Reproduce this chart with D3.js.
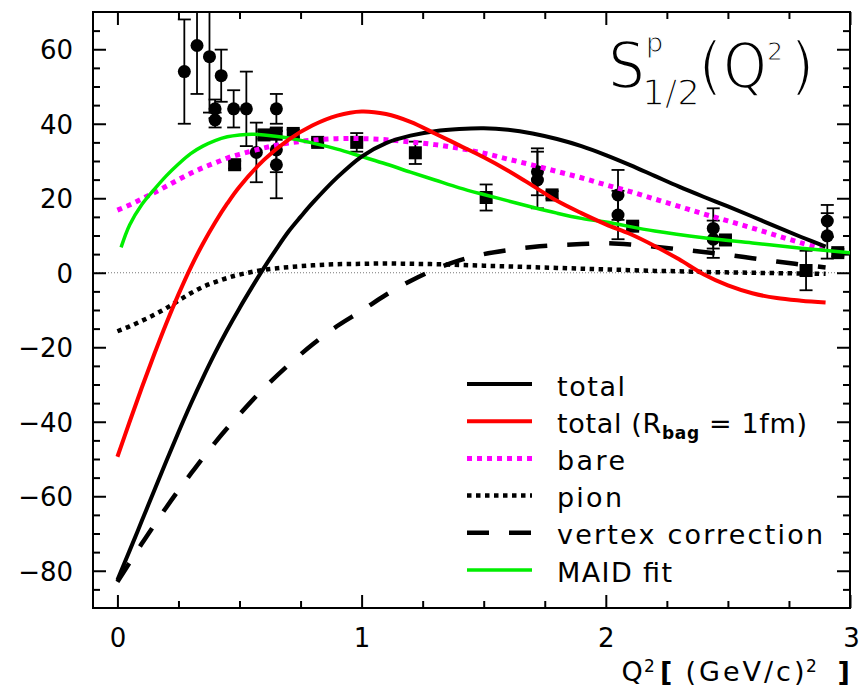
<!DOCTYPE html>
<html>
<head>
<meta charset="utf-8">
<script src="https://cdn.jsdelivr.net/npm/d3@7"></script>
<style>
  html, body { margin: 0; padding: 0; background: #fff; }
  svg { display: block; font-family: "DejaVu Sans", sans-serif; }
</style>
</head>
<body>
<script>
// ---- model curves: S_1/2 for the proton vs Q^2 ----
const qTotal = [0, 0.05, 0.1, 0.15, 0.2, 0.25, 0.3, 0.35, 0.4, 0.45, 0.5, 0.55, 0.6, 0.65, 0.7, 0.75, 0.8, 0.9,
  1.0, 1.1, 1.2, 1.3, 1.4, 1.5, 1.6, 1.7, 1.8, 1.9, 2.0, 2.1, 2.2, 2.3, 2.4, 2.5, 2.6, 2.7, 2.8, 2.9];
const sTotal = [-82.5, -74.6, -66.6, -58.6, -50.6, -42.8, -35.3, -28.2, -21.5, -15.3, -9.5, -4, 1.3, 6.3, 11, 15, 18.8, 25.6,
  31.2, 34.8, 36.8, 38, 38.6, 38.8, 38.4, 37.4, 35.9, 34, 31.6, 28.9, 26, 23.1, 20.4, 17.8, 15.1, 12.3, 9.6, 7];

const qModel = [0, 0.05, 0.1, 0.15, 0.2, 0.25, 0.3, 0.35, 0.4, 0.45, 0.5, 0.6, 0.7, 0.8, 0.9,
  1.0, 1.1, 1.2, 1.3, 1.4, 1.5, 1.6, 1.7, 1.8, 1.9, 2.0, 2.1, 2.2, 2.3, 2.4, 2.5, 2.6, 2.7, 2.8, 2.9];
const sTotalBag = [-49.4, -40, -30.8, -22, -13.6, -5.8, 1.4, 7.8, 13.5, 18.6, 23.1, 30.3, 35.7, 39.6, 42.2,
  43.3, 42.6, 40.5, 37.4, 34.2, 31, 27.4, 23.4, 19.3, 16, 13, 10.4, 7.2, 3.6, -0.4, -3.4, -5.5, -6.8, -7.5, -8];
const sBare = [16.8, 18.2, 19.8, 21.5, 23.2, 25, 26.7, 28.2, 29.5, 30.8, 31.8, 33.5, 34.8, 35.6, 36,
  36, 35.7, 35.1, 34.4, 33.4, 32.1, 30.5, 28.9, 27.2, 25.5, 23.6, 21.8, 19.8, 17.8, 15.8, 13.9, 12, 10, 8, 6.2];
const sPion = [-15.7, -14.4, -12.9, -11.3, -9.5, -7.5, -5.5, -3.8, -2.5, -1.4, -0.5, 0.8, 1.5, 2.0, 2.3,
  2.4, 2.5, 2.4, 2.3, 2.1, 1.9, 1.7, 1.5, 1.3, 1.1, 0.9, 0.7, 0.5, 0.4, 0.2, 0.1, 0, -0.1, -0.2, -0.3];
const sVertex = [-83, -77.8, -72.7, -67.8, -63, -58.4, -54, -49.7, -45.6, -41.7, -38, -31, -24.8, -19.2, -14.3,
  -10.2, -5.9, -2.2, 0.9, 3.3, 5, 6.1, 6.9, 7.4, 7.7, 7.9, 7.6, 7.0, 6.3, 5.6, 4.8, 3.9, 3.0, 2.2, 1.4];

// MAID fit
const qMaid = [0.015, 0.05, 0.1, 0.15, 0.2, 0.25, 0.3, 0.35, 0.4, 0.45, 0.5, 0.55, 0.6, 0.7, 0.8, 0.9,
  1.0, 1.1, 1.2, 1.3, 1.4, 1.5, 1.6, 1.7, 1.8, 1.9, 2.0, 2.2, 2.4, 2.6, 2.8, 3.0];
const sMaid = [6.8, 12.8, 18.3, 22.3, 26, 29.2, 32, 34, 35.5, 36.5, 37, 37.2, 37, 36.2, 34.8, 33.2,
  31.2, 29.2, 27, 24.9, 22.8, 21, 19.3, 17.6, 16, 14.6, 13.6, 11.2, 9.4, 8, 6.6, 5.4];

// ---- measurements (circles and squares) with errors ----
const circQ = [0.274, 0.326, 0.377, 0.40, 0.40, 0.425, 0.476, 0.528, 0.569, 0.651, 0.651, 0.651,
  1.72, 1.72, 2.05, 2.05, 2.44, 2.44, 2.907, 2.907];
const circS = [54.0, 61.0, 58.0, 44.0, 41.0, 52.9, 44.0, 44.0, 32.3, 44.0, 33.0, 29.0,
  27.1, 24.9, 20.9, 15.5, 11.9, 9.0, 13.9, 9.9];
const circErr = [14, 13, 15, 2.5, 2, 7, 5, 10, 8, 4, 6, 9,
  6.3, 7.6, 6.7, 6.5, 5.4, 5, 4.3, 6.1];

const sqQ = [0.48, 0.60, 0.65, 0.72, 0.82, 0.98, 1.22, 1.51, 1.78, 2.11, 2.49, 2.82, 2.95];
const sqS = [29.0, 37.0, 37.2, 37.4, 35.0, 35.0, 32.2, 20.2, 20.9, 12.5, 8.8, 0.6, 5.4];
const sqErr = [1, 1, 1, 1, 1, 2.5, 3, 3.5, 1, 1, 1, 5.3, 1];

// ---- axis ticks ----
const xMajor = [0, 1, 2, 3];
const xMinor = [0.25, 0.5, 0.75, 1.25, 1.5, 1.75, 2.25, 2.5, 2.75];
const yMajor = [-80, -60, -40, -20, 0, 20, 40, 60];
const yMinor = [-85, -75, -70, -65, -55, -50, -45, -35, -30, -25, -15, -10, -5,
  5, 10, 15, 25, 30, 35, 45, 50, 55, 65];

const legendLabels = ["total", "total (R_bag=1fm)", "bare", "pion", "vertex correction", "MAID fit"];

// ---- layout ----
const W = 860, H = 690;
const mLeft = 93, mRight = 850, mTop = 12, mBottom = 608;

const x = d3.scaleLinear().domain([-0.1, 3.0]).range([mLeft, mRight]);
const y = d3.scaleLinear().domain([-90, 70]).range([mBottom, mTop]);

const svg = d3.select("body").append("svg").attr("width", W).attr("height", H);
svg.append("rect").attr("width", W).attr("height", H).attr("fill", "#fff");

svg.append("defs").append("clipPath").attr("id", "plotclip")
  .append("rect").attr("x", mLeft).attr("y", mTop)
  .attr("width", mRight - mLeft).attr("height", mBottom - mTop);

// zero reference line
svg.append("line")
  .attr("x1", x(-0.1)).attr("x2", x(3.0)).attr("y1", y(0)).attr("y2", y(0))
  .attr("stroke", "#777").attr("stroke-width", 1).attr("stroke-dasharray", "1,2");

// ---- axes (ticks pointing inward on all four sides) ----
const MAJ = 13, MIN = 7;
function axis(gen, values, size, tx, ty, labels) {
  const a = gen.tickValues(values).tickSize(-size).tickSizeOuter(0)
    .tickFormat(labels ? d3.format("d") : () => "");
  const g = svg.append("g").attr("transform", `translate(${tx},${ty})`).call(a);
  g.select(".domain").remove();
  g.selectAll(".tick line").attr("stroke", "#000").attr("stroke-width", 2);
  return g;
}
const gxb = axis(d3.axisBottom(x), xMajor, MAJ, 0, mBottom, true);
axis(d3.axisBottom(x), xMinor, MIN, 0, mBottom, false);
axis(d3.axisTop(x), xMajor, MAJ, 0, mTop, false);
axis(d3.axisTop(x), xMinor, MIN, 0, mTop, false);
const gyl = axis(d3.axisLeft(y), yMajor, MAJ, mLeft, 0, true);
axis(d3.axisLeft(y), yMinor, MIN, mLeft, 0, false);
axis(d3.axisRight(y), yMajor, MAJ, mRight, 0, false);
axis(d3.axisRight(y), yMinor, MIN, mRight, 0, false);

gxb.selectAll(".tick text")
  .attr("y", 39).attr("dy", null)
  .attr("font-size", 26).attr("font-family", "DejaVu Sans").attr("fill", "#000");
gxb.selectAll(".tick").filter(d => d === 3).select("text").attr("dx", 1);
gyl.selectAll(".tick text")
  .attr("x", -20).attr("dy", "0.36em")
  .attr("font-size", 26).attr("font-family", "DejaVu Sans").attr("fill", "#000");

// frame
svg.append("rect").attr("x", mLeft).attr("y", mTop)
  .attr("width", mRight - mLeft).attr("height", mBottom - mTop)
  .attr("fill", "none").attr("stroke", "#000").attr("stroke-width", 2);

// ---- data points ----
const pts = svg.append("g").attr("clip-path", "url(#plotclip)");
function errorBars(qs, ss, es) {
  qs.forEach((q, i) => {
    const cx = x(q), y1 = y(ss[i] + es[i]), y2 = y(ss[i] - es[i]);
    const g = pts.append("g").attr("stroke", "#000").attr("stroke-width", 1.8);
    g.append("line").attr("x1", cx).attr("x2", cx).attr("y1", y1).attr("y2", y2);
    g.append("line").attr("x1", cx - 6.5).attr("x2", cx + 6.5).attr("y1", y1).attr("y2", y1);
    g.append("line").attr("x1", cx - 6.5).attr("x2", cx + 6.5).attr("y1", y2).attr("y2", y2);
  });
}
errorBars(circQ, circS, circErr);
errorBars(sqQ, sqS, sqErr);
pts.selectAll("circle.pt").data(circQ).enter().append("circle")
  .attr("cx", d => x(d)).attr("cy", (d, i) => y(circS[i])).attr("r", 6.5).attr("fill", "#000");
pts.selectAll("rect.pt").data(sqQ).enter().append("rect")
  .attr("x", d => x(d) - 6.5).attr("y", (d, i) => y(sqS[i]) - 6.5)
  .attr("width", 13).attr("height", 13).attr("fill", "#000");

// ---- curves ----
const styles = {
  total:  { color: "#000", width: 4, dash: null },
  bag:    { color: "#ff0000", width: 4, dash: null },
  bare:   { color: "#ff00ff", width: 5, dash: "5,5" },
  pion:   { color: "#000", width: 4.5, dash: "4.5,4.5" },
  vertex: { color: "#000", width: 4.5, dash: "22,20" },
  maid:   { color: "#00ee00", width: 3.5, dash: null }
};
const lineGen = d3.line().x(d => x(d[0])).y(d => y(d[1])).curve(d3.curveCatmullRom.alpha(0.5));
const curves = svg.append("g").attr("clip-path", "url(#plotclip)").attr("fill", "none");
function curve(qs, ss, st) {
  curves.append("path").datum(qs.map((q, i) => [q, ss[i]]))
    .attr("d", lineGen).attr("stroke", st.color).attr("stroke-width", st.width)
    .attr("stroke-dasharray", st.dash);
}
curve(qModel, sPion, styles.pion);
curve(qModel, sVertex, styles.vertex);
curve(qModel, sBare, styles.bare);
curve(qMaid, sMaid, styles.maid);
curve(qTotal, sTotal, styles.total);
curve(qModel, sTotalBag, styles.bag);

// ---- legend ----
const legStyles = [styles.total, styles.bag, styles.bare, styles.pion, styles.vertex, styles.maid];
const legWidths = [68, 250, 68, 65, 266, 115];
const leg = svg.append("g");
legStyles.forEach((st, i) => {
  const ly = 384 + i * 37.2;
  leg.append("line").attr("x1", 467).attr("x2", 532).attr("y1", ly).attr("y2", ly)
    .attr("stroke", st.color).attr("stroke-width", st.width)
    .attr("stroke-dasharray", st.dash);
  const t = leg.append("text").attr("x", 557).attr("y", ly + 11.5)
    .attr("font-size", 27).attr("fill", "#000")
    .attr("textLength", legWidths[i]).attr("lengthAdjust", "spacing");
  const lab = legendLabels[i];
  if (lab.includes("_")) {
    const [pre, rest] = lab.split("_");
    const sub = rest.slice(0, 3), post = rest.slice(3);
    t.append("tspan").text(pre);
    t.append("tspan").attr("font-size", 17).attr("font-weight", "bold")
      .attr("dy", 6).text(sub);
    t.append("tspan").attr("dy", -6).text(post.replace("=", " = "));
  } else {
    t.text(lab);
  }
});

// ---- title S^p_{1/2}(Q^2), one text element, light stroke weight ----
const title = svg.append("text").attr("fill", "#000").attr("stroke", "#fff");
function glyph(txt, gx, gy, size, erode, len) {
  const t = title.append("tspan").attr("x", gx).attr("y", gy).attr("font-size", size)
    .attr("stroke-width", erode).text(txt);
  if (len) t.attr("textLength", len).attr("lengthAdjust", "spacingAndGlyphs");
  return t;
}
glyph("S", 608, 88, 64, 2.6, 37);
glyph("p", 646, 52, 27, 1.0);
glyph("1/2", 642, 105, 36, 1.4);
glyph("(", 698, 88, 64, 2.6);
glyph("Q", 723, 88, 64, 2.6, 44);
glyph("2", 767, 60, 25, 1.0);
glyph(")", 790, 88, 64, 2.6);

// ---- x-axis title: Q^2 [ (GeV/c)^2 ] ----
const xt = svg.append("text").attr("fill", "#000").attr("font-size", 27);
xt.append("tspan").attr("x", 621.5).attr("y", 681).text("Q");
xt.append("tspan").attr("x", 644).attr("y", 672).attr("font-size", 17).text("2");
xt.append("tspan").attr("x", 660).attr("y", 681).attr("font-weight", "bold").text("[");
xt.append("tspan").attr("x", 685.5).attr("y", 681)
  .attr("textLength", 119).attr("lengthAdjust", "spacing").text("(GeV/c)");
xt.append("tspan").attr("x", 806).attr("y", 672).attr("font-size", 17).text("2");
xt.append("tspan").attr("x", 837.5).attr("y", 681).attr("font-weight", "bold").text("]");
</script>
</body>
</html>
